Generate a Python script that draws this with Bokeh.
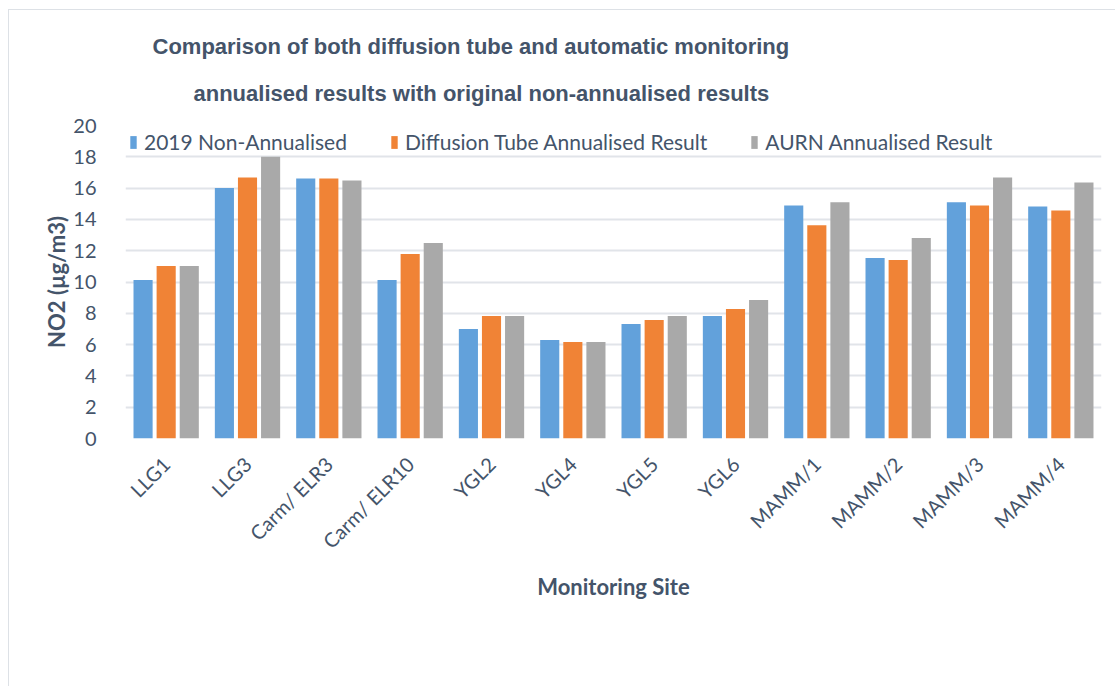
import math
from bokeh.plotting import figure
from bokeh.models import ColumnDataSource, FactorRange, FixedTicker, Legend, LegendItem, Title
from bokeh.core.properties import value
from bokeh.transform import dodge
from bokeh.embed import file_html
from bokeh.resources import INLINE

sites = ["LLG1", "LLG3", "Carm/ ELR3", "Carm/ ELR10", "YGL2", "YGL4", "YGL5", "YGL6",
         "MAMM/1", "MAMM/2", "MAMM/3", "MAMM/4"]
non_annualised = [10.13, 16.0, 16.62, 10.13, 7.0, 6.3, 7.32, 7.83, 14.89, 11.53, 15.09, 14.83]
diffusion_tube = [11.02, 16.68, 16.62, 11.79, 7.83, 6.17, 7.57, 8.28, 13.62, 11.4, 14.89, 14.57]
aurn = [11.02, 18.0, 16.49, 12.49, 7.83, 6.17, 7.83, 8.85, 15.09, 12.81, 16.68, 16.36]
series_names = ["2019 Non-Annualised", "Diffusion Tube Annualised Result", "AURN Annualised Result"]
y_ticks = [0, 2, 4, 6, 8, 10, 12, 14, 16, 18, 20]
title_lines = ["Comparison of both diffusion tube and automatic monitoring",
               "annualised results with original non-annualised results"]

colors = ["#62A1DB", "#F08336", "#A9A9A9"]
text_color = "#44546A"
body_font = "Lato"

src = ColumnDataSource(dict(site=sites, a=non_annualised, b=diffusion_tube, c=aurn))

W, H = 1107, 677
p = figure(width=W, height=H, x_range=FactorRange(*sites, range_padding=0), y_range=(0, 20),
           output_backend="svg", toolbar_location=None,
           min_border_left=116, min_border_right=15, min_border_top=115, min_border_bottom=249)
p.styles = {"margin-left": "8px", "margin-top": "9px", "border-left": "1px solid #DDE1E6",
            "border-top": "1px solid #DDE1E6", "box-sizing": "border-box"}
p.outline_line_color = None
p.background_fill_color = "white"

# Title: two lines (p.title is the outer one)
p.title.text = title_lines[0]
t2 = Title(text=title_lines[1])
for t, off, so in ((p.title, 27, 0), (t2, 68, 40)):
    t.align = "left"
    t.offset = off
    t.standoff = so
    t.text_font = "Liberation Sans"
    t.text_font_style = "bold"
    t.text_font_size = "22px"
    t.text_color = text_color
p.add_layout(t2, "above")

bw = 0.235
offs = [-0.284, 0.0, 0.284]
rs = []
for key, off, col in zip(["a", "b", "c"], offs, colors):
    r = p.vbar(x=dodge("site", off, range=p.x_range), top=key, width=bw, source=src,
               fill_color=col, line_color=None)
    rs.append(r)

p.yaxis.ticker = FixedTicker(ticks=y_ticks)
p.ygrid.grid_line_color = "#E1E4E9"
p.ygrid.grid_line_width = 2
p.xgrid.grid_line_color = None
for ax in (p.xaxis[0], p.yaxis[0]):
    ax.axis_line_color = None
    ax.major_tick_line_color = None
    ax.minor_tick_line_color = None
    ax.major_label_text_color = text_color
    ax.major_label_text_font = body_font
    ax.major_label_text_font_size = "20px"
    ax.axis_label_text_color = text_color
    ax.axis_label_text_font = body_font
    ax.axis_label_text_font_style = "bold"
    ax.axis_label_text_font_size = "22px"

p.yaxis.axis_label = "NO2 (µg/m3)"
p.yaxis.major_label_standoff = 23
p.yaxis.axis_label_standoff = 0
p.xaxis.axis_label = "Monitoring Site"
p.xaxis.major_label_orientation = math.pi / 4
p.xaxis.major_label_standoff = 16
p.xaxis.axis_label_standoff = 9

legend = Legend(items=[LegendItem(label=value(n), renderers=[r]) for n, r in zip(series_names, rs)],
                orientation="horizontal", location="top_left", padding=0, margin=4,
                spacing=43, glyph_width=8, glyph_height=16, label_standoff=7,
                label_text_font=body_font, label_text_font_size="21px", label_text_color=text_color,
                border_line_color=None, background_fill_color="white", background_fill_alpha=1)
p.add_layout(legend)

open("out.html", "w").write(file_html(p, INLINE))
